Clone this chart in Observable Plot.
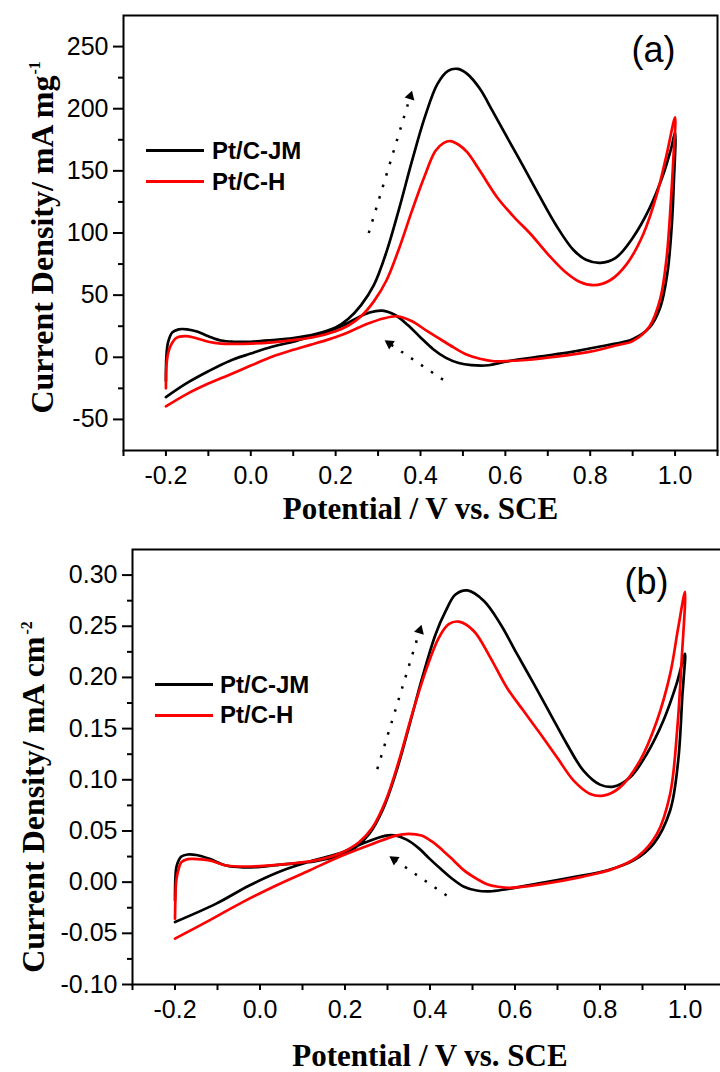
<!DOCTYPE html>
<html>
<head>
<meta charset="utf-8">
<script src="https://cdn.jsdelivr.net/npm/d3@7"></script>
<script src="https://cdn.jsdelivr.net/npm/@observablehq/plot@0.6"></script>
<style>
  body { margin: 0; background: #fff; }
  #wrap { position: relative; width: 720px; height: 1072px; overflow: hidden; background: #fff; }
  .panel { position: absolute; left: 0; }
  .legtxt { position: absolute; font-family: "Liberation Sans", Arial, sans-serif; font-weight: bold; font-size: 24px; line-height: 24px; white-space: nowrap; color: #000; }
  .sw { position: absolute; height: 3px; }
</style>
</head>
<body>
<div id="wrap"></div>
<script>
// ---------- series names / colours ----------
const seriesNames = ["Pt/C-JM", "Pt/C-H"];
const seriesColors = ["#000000", "#ff0000"];

// ---------- axis ticks ----------
const xMajor = [-0.2, 0.0, 0.2, 0.4, 0.6, 0.8, 1.0];
const xMinor = [-0.3, -0.1, 0.1, 0.3, 0.5, 0.7, 0.9, 1.1];
const yMajorA = [-50, 0, 50, 100, 150, 200, 250];
const yMinorA = [-25, 25, 75, 125, 175, 225];
const yMajorB = [-0.10, -0.05, 0.00, 0.05, 0.10, 0.15, 0.20, 0.25, 0.30];
const yMinorB = [-0.075, -0.025, 0.025, 0.075, 0.125, 0.175, 0.225, 0.275];

// ---------- panel (a): mass activity, mA mg-1 ----------
const aJM_V = [-0.200,-0.199,-0.195,-0.185,-0.170,-0.150,-0.125,-0.100,-0.070,-0.040,0.000,0.050,0.100,0.150,0.200,0.230,0.260,0.290,0.320,0.350,0.380,0.410,0.440,0.465,0.488,0.510,0.540,0.570,0.600,0.640,0.680,0.720,0.760,0.790,0.824,0.860,0.900,0.940,0.970,0.990,1.000,
  0.997,0.992,0.982,0.965,0.940,0.900,0.860,0.820,0.760,0.680,0.600,0.560,0.520,0.490,0.460,0.430,0.400,0.370,0.340,0.310,0.280,0.250,0.220,0.180,0.140,0.100,0.050,0.000,-0.050,-0.100,-0.150,-0.200];
const aJM_I = [-19,0,12,20,22.5,22.5,20.5,17,13.5,12.5,12.5,13.8,15.5,18.5,24,31,42,58,85,120,158,193,220,230.5,232,228,216,198,179.5,155,130,106,86.5,78.5,76,80,96,120,145,167,181,
  140,105,68,40,24,14.5,11,8.5,4.5,0.5,-3.5,-6.4,-6.3,-4.6,-0.5,6.5,16,26,34,37.5,36,31.5,26,20.6,16.5,12.5,8.5,3,-2.9,-11.2,-20.6,-32];

const aH_V = [-0.200,-0.199,-0.195,-0.188,-0.176,-0.155,-0.130,-0.100,-0.070,-0.040,0.000,0.050,0.100,0.150,0.200,0.230,0.260,0.290,0.320,0.350,0.380,0.410,0.435,0.455,0.470,0.490,0.510,0.540,0.580,0.620,0.660,0.700,0.740,0.776,0.808,0.847,0.886,0.925,0.957,0.980,1.000,
  0.996,0.990,0.980,0.965,0.940,0.900,0.860,0.800,0.720,0.650,0.610,0.573,0.540,0.510,0.478,0.447,0.416,0.380,0.345,0.310,0.280,0.259,0.220,0.180,0.140,0.100,0.050,0.000,-0.050,-0.100,-0.150,-0.200];
const aH_I = [-25,-8,3,10,15.5,17,15.5,12.5,11,10.8,11,12,13.8,16.3,21,25.5,33,45,62,88,118,146,166,172.5,174,171,165,150,129,113,99,83,69,60.5,58,62,75,99,131,163,193,
  160,125,80,47,25,13,9.5,4.5,0.5,-2.2,-3,-3.2,-1.2,2,8,14.5,21,29,33,31,27.5,24.6,18.8,14,10,6,0.5,-6.7,-14,-21.1,-29.4,-39.5];

// arrows of panel (a): tail (x1,y1) -> head (x2,y2)
const arrA_x1 = [0.278, 0.453];
const arrA_y1 = [100, -18];
const arrA_x2 = [0.376, 0.327];
const arrA_y2 = [210, 11];

// ---------- panel (b): specific activity, mA cm-2 ----------
const bJM_V = [-0.200,-0.199,-0.196,-0.185,-0.170,-0.150,-0.119,-0.080,-0.040,0.000,0.053,0.100,0.131,0.186,0.225,0.257,0.288,0.319,0.350,0.382,0.413,0.437,0.460,0.488,0.527,0.566,0.605,0.644,0.683,0.722,0.761,0.800,0.832,0.871,0.910,0.949,0.980,1.000,
  0.997,0.994,0.984,0.965,0.926,0.879,0.816,0.738,0.660,0.581,0.540,0.510,0.480,0.450,0.425,0.400,0.374,0.345,0.315,0.296,0.249,0.194,0.131,0.053,-0.025,-0.103,-0.200];
const bJM_I = [-0.018,0.004,0.016,0.025,0.027,0.0265,0.0228,0.0163,0.0145,0.015,0.0173,0.019,0.0205,0.026,0.034,0.047,0.070,0.1057,0.151,0.200,0.242,0.265,0.281,0.285,0.2747,0.252,0.2227,0.194,0.1645,0.135,0.109,0.0953,0.0933,0.1024,0.1252,0.1577,0.1934,0.223,
  0.200,0.1837,0.1187,0.070,0.0374,0.0212,0.0114,0.0049,-0.001,-0.0068,-0.009,-0.0082,-0.0045,0.004,0.013,0.0225,0.033,0.0415,0.0458,0.0455,0.039,0.0293,0.0218,0.0114,-0.0032,-0.021,-0.039];

const bH_V = [-0.200,-0.199,-0.197,-0.192,-0.185,-0.170,-0.158,-0.119,-0.080,-0.025,0.053,0.131,0.186,0.233,0.265,0.296,0.327,0.358,0.390,0.421,0.444,0.468,0.503,0.542,0.581,0.620,0.660,0.699,0.738,0.777,0.808,0.847,0.894,0.934,0.965,0.984,1.000,
  0.992,0.982,0.965,0.934,0.887,0.832,0.754,0.660,0.589,0.560,0.534,0.511,0.480,0.456,0.430,0.405,0.380,0.350,0.320,0.265,0.194,0.116,0.038,-0.041,-0.119,-0.200];
const bH_I = [-0.0357,-0.015,0.0017,0.012,0.0195,0.0225,0.0228,0.0212,0.0163,0.0153,0.0173,0.0212,0.0277,0.039,0.0536,0.0797,0.1187,0.1642,0.2064,0.2389,0.252,0.2545,0.2454,0.2194,0.190,0.1674,0.1447,0.1219,0.0992,0.0862,0.0845,0.0926,0.1187,0.1577,0.2032,0.2486,0.2837,
  0.2162,0.151,0.0862,0.0472,0.0244,0.0131,0.0049,-0.0022,-0.0055,-0.0045,-0.002,0.003,0.0115,0.021,0.031,0.0395,0.0455,0.0472,0.0455,0.0374,0.026,0.0114,-0.0032,-0.0195,-0.0374,-0.0552];

const arrB_x1 = [0.276, 0.439];
const arrB_y1 = [0.1105, -0.013];
const arrB_x2 = [0.376, 0.316];
const arrB_y2 = [0.246, 0.022];

// ---------- drawing ----------
const W = 720;
const SERIF = "'Liberation Serif', 'Times New Roman', serif";
const rowsOf = (V, I) => V.map((v, i) => ({v, c: I[i]}));

function panel(o) {
  const kx = (W - o.mR - o.mL) / (o.xd[1] - o.xd[0]);
  const ky = (o.h - o.mB - o.mT) / (o.yd[1] - o.yd[0]);
  const arrows = o.ax1.map((x1, i) => ({x1, y1: o.ay1[i], x2: o.ax2[i], y2: o.ay2[i]}));
  const ang = d => Math.atan2((d.x2 - d.x1) * kx, (d.y2 - d.y1) * ky) * 180 / Math.PI;
  return Plot.plot({
    width: W, height: o.h,
    marginLeft: o.mL, marginRight: o.mR, marginTop: o.mT, marginBottom: o.mB,
    x: {domain: o.xd},
    y: {domain: o.yd},
    style: {fontFamily: "'Liberation Sans', Arial, sans-serif", fontSize: "25px", color: "#000", background: "transparent", overflow: "visible"},
    marks: [
      Plot.axisX({ticks: xMinor, tickSize: 6, text: null, label: null, strokeWidth: 2}),
      Plot.axisX({ticks: xMajor, tickSize: 6, tickPadding: o.xPad, tickFormat: d => d.toFixed(1), label: null, strokeWidth: 2, fontSize: 25}),
      Plot.axisY({ticks: o.yMinor, tickSize: 5, text: null, label: null, strokeWidth: 2}),
      Plot.axisY({ticks: o.yMajor, tickSize: 10, tickPadding: 5, tickFormat: o.yFmt, label: null, strokeWidth: 2, fontSize: 25}),
      Plot.frame({strokeWidth: 2}),
      Plot.line(rowsOf(o.jmV, o.jmI), {x: "v", y: "c", stroke: seriesColors[0], strokeWidth: 2.7, curve: "catmull-rom"}),
      Plot.line(rowsOf(o.hV, o.hI), {x: "v", y: "c", stroke: seriesColors[1], strokeWidth: 2.7, curve: "catmull-rom"}),
      Plot.link(arrows, {x1: "x1", y1: "y1", x2: "x2", y2: "y2", stroke: "#000", strokeWidth: 2.5, strokeDasharray: "2.5,9.5"}),
      Plot.dot(arrows, {x: "x2", y: "y2", symbol: "triangle", r: 3.8, fill: "#000", stroke: "none", rotate: ang}),
      Plot.text([o.tag], {text: d => d, frameAnchor: "top-right", textAnchor: "end", lineAnchor: "bottom", dx: o.tagDx, dy: o.tagDy, fontSize: 36}),
      Plot.text(["Potential / V vs. SCE"], {text: d => d, frameAnchor: "bottom", lineAnchor: "bottom", dy: o.xlabDy, fontFamily: SERIF, fontWeight: "bold", fontSize: 31}),
      Plot.text([o.ylab], {text: d => d, frameAnchor: "top-left", textAnchor: "end", lineAnchor: "bottom", rotate: -90, dx: o.ylabDx, dy: o.ylabDy, fontFamily: SERIF, fontWeight: "bold", fontSize: 32}),
      Plot.text([o.ysup], {text: d => d, frameAnchor: "top-left", textAnchor: "start", lineAnchor: "bottom", rotate: -90, dx: o.ysupDx, dy: o.ysupDy, fontFamily: SERIF, fontWeight: "bold", fontSize: 16})
    ]
  });
}

const wrap = document.getElementById("wrap");

function place(el, top) {
  el.classList.add("panel");
  el.style.top = top + "px";
  wrap.appendChild(el);
}

function legend(lx, ly, tx, ty) {
  seriesNames.forEach((name, i) => {
    const sw = document.createElement("div");
    sw.className = "sw";
    sw.style.left = lx[0] + "px";
    sw.style.width = (lx[1] - lx[0]) + "px";
    sw.style.top = (ly[i] - 1.5) + "px";
    sw.style.background = seriesColors[i];
    wrap.appendChild(sw);
    const t = document.createElement("div");
    t.className = "legtxt";
    t.textContent = name;
    t.style.left = tx + "px";
    t.style.top = (ty[i] - 20.3) + "px";
    wrap.appendChild(t);
  });
}

const pA = panel({
  h: 530, mL: 123, mR: 3, mT: 15, mB: 80,
  xd: [-0.3, 1.1], yd: [-75, 275],
  yMajor: yMajorA, yMinor: yMinorA, yFmt: d => String(d), xPad: 10,
  jmV: aJM_V, jmI: aJM_I, hV: aH_V, hI: aH_I,
  ax1: arrA_x1, ay1: arrA_y1, ax2: arrA_x2, ay2: arrA_y2,
  tag: "(a)", tagDx: -42, tagDy: 46,
  xlabDy: 68,
  ylab: "Current Density/ mA mg", ysup: "-1",
  ylabDx: -71, ylabDy: 60, ysupDx: -84, ysupDy: 59
});
place(pA, 0);

const pB = panel({
  h: 542, mL: 132, mR: -7, mT: 19, mB: 88,
  xd: [-0.3, 1.1], yd: [-0.10, 0.325],
  yMajor: yMajorB, yMinor: yMinorB, yFmt: d => d.toFixed(2), xPad: 10,
  jmV: bJM_V, jmI: bJM_I, hV: bH_V, hI: bH_I,
  ax1: arrB_x1, ay1: arrB_y1, ax2: arrB_x2, ay2: arrB_y2,
  tag: "(b)", tagDx: -59, tagDy: 44,
  xlabDy: 81,
  ylab: "Current Density/ mA cm", ysup: "-2",
  ylabDx: -89, ylabDy: 87, ysupDx: -101, ysupDy: 85
});
place(pB, 530);

legend([146, 204], [150, 181], 212, [159, 190]);
legend([155, 213], [684, 715], 220, [693, 723]);
</script>
</body>
</html>
